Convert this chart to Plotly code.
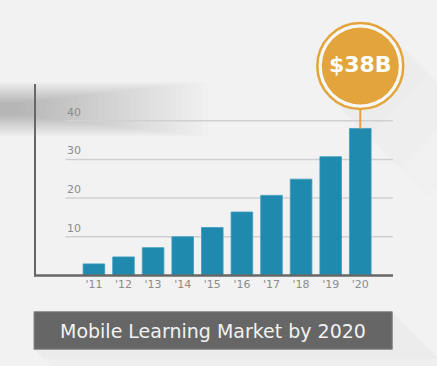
import plotly.graph_objects as go

# ---- data ----
years = ["'11", "'12", "'13", "'14", "'15", "'16", "'17", "'18", "'19", "'20"]
values = [3.0, 4.8, 7.2, 10.0, 12.4, 16.4, 20.7, 24.9, 30.7, 38.0]
y_ticks = [10, 20, 30, 40]
y_tick_labels = ["10", "20", "30", "40"]
callout_text = "$38B"
title_text = "Mobile Learning Market by 2020"

W, H = 437, 366
BG = "#f2f2f2"
BAR = "#1f8aad"
ORANGE = "#e3a53b"
AXIS = "#676767"
GRID = "#d0d0d0"
FONT = "DejaVu Sans"

def px(x):
    return x / W

def py(y):
    return 1 - y / H

# plot area in page pixels
L, R, B, TOP = 35, 393, 275.5, 0
AX_TOP = 84
UNIT = 3.87  # pixels per value unit
idx = list(range(len(years)))
xr = [-1.99, 10.105]
yr = [0, (B - TOP) / UNIT]

fig = go.Figure()

fig.add_trace(go.Bar(
    x=idx, y=values,
    marker=dict(color=BAR, line=dict(color="#3b9dbf", width=0.8)),
    hoverinfo="skip",
))

# callout stem + circles, anchored to the last bar
last_x = idx[-1]
last_v = values[-1]
circle_y = last_v + 16.13
fig.add_trace(go.Scatter(
    x=[last_x, last_x], y=[last_v, last_v + 6],
    mode="lines", line=dict(color=ORANGE, width=2),
    cliponaxis=False, hoverinfo="skip",
))
fig.add_trace(go.Scatter(
    x=[last_x], y=[circle_y], mode="markers",
    marker=dict(size=86, color="#f7f7f7", line=dict(color=ORANGE, width=2.5)),
    cliponaxis=False, hoverinfo="skip",
))
fig.add_trace(go.Scatter(
    x=[last_x], y=[circle_y], mode="markers+text",
    marker=dict(size=77, color=ORANGE, line=dict(width=0)),
    text=["<b>" + callout_text + "</b>"], textposition="middle center",
    textfont=dict(family=FONT, size=22, color="white"),
    cliponaxis=False, hoverinfo="skip",
))

shapes = []
# soft grey blur at the left
N = 30
for i in range(N):
    half = 6 + i * 0.75
    shapes.append(dict(
        type="rect", xref="paper", yref="paper", layer="below",
        x0=px(0), x1=px(20 + i * 6.5),
        y0=py(109 + half), y1=py(109 - half),
        fillcolor="rgba(0,0,0,0.0075)", line=dict(width=0),
    ))
# long diagonal shadow behind callout circle
cx, cy = 359.5, 66
d = 31.1
for ln in [40, 70, 100]:
    shapes.append(dict(
        type="path", xref="paper", yref="paper", layer="below",
        path=f"M {px(cx+d)},{py(cy-d)} L {px(cx+d+ln)},{py(cy-d+ln)} L {px(cx-d+ln)},{py(cy+d+ln)} L {px(cx-d)},{py(cy+d)} Z",
        fillcolor="rgba(0,0,0,0.008)", line=dict(width=0),
    ))
# gridlines
for v in y_ticks:
    shapes.append(dict(
        type="line", xref="paper", yref="y", layer="below",
        x0=px(65.7), x1=px(R), y0=v, y1=v,
        line=dict(color=GRID, width=1.5),
    ))
# axis lines
shapes.append(dict(type="line", xref="paper", yref="paper",
                   x0=px(L), x1=px(L), y0=py(B + 1), y1=py(AX_TOP),
                   line=dict(color=AXIS, width=2)))
shapes.append(dict(type="line", xref="paper", yref="paper",
                   x0=px(L - 1), x1=px(R), y0=py(B), y1=py(B),
                   line=dict(color=AXIS, width=2.5)))
# title box shadow
for ln in [10, 20]:
    shapes.append(dict(
        type="path", xref="paper", yref="paper", layer="below",
        path=f"M {px(34)},{py(349.3)} L {px(392.3)},{py(349.3)} L {px(392.3)},{py(311.7)} L {px(392.3+37.6+ln)},{py(349.3+ln)} L {px(34+ln)},{py(349.3+ln)} Z",
        fillcolor="rgba(0,0,0,0.012)", line=dict(width=0),
    ))
# title box
shapes.append(dict(type="rect", xref="paper", yref="paper",
                   x0=px(34), x1=px(392.3), y0=py(349.3), y1=py(311.7),
                   fillcolor="#666666", line=dict(color="#8a8a8a", width=1)))

annotations = []
for v, lab in zip(y_ticks, y_tick_labels):
    annotations.append(dict(
        xref="paper", yref="y", x=px(65), y=v, text=lab, showarrow=False,
        xanchor="left", yanchor="bottom", yshift=0,
        font=dict(family=FONT, size=11, color="#8c8c8c"),
    ))
annotations.append(dict(
    xref="paper", yref="paper", x=px(213), y=py(330.5), text=title_text,
    showarrow=False, xanchor="center", yanchor="middle",
    font=dict(family=FONT, size=19, color="#f2f2f2"),
))

fig.update_layout(
    width=W, height=H, autosize=False,
    margin=dict(l=0, r=0, t=0, b=0),
    paper_bgcolor=BG, plot_bgcolor="rgba(0,0,0,0)",
    showlegend=False, bargap=0.27,
    xaxis=dict(domain=[px(L), px(R)], range=xr, tickmode="array",
               tickvals=idx, ticktext=years, showgrid=False, zeroline=False,
               showline=False, ticks="", ticklen=0,
               tickfont=dict(family=FONT, size=11, color="#8c8c8c")),
    yaxis=dict(domain=[py(B), py(TOP)], range=yr, showgrid=False,
               zeroline=False, showline=False, showticklabels=False),
    shapes=shapes, annotations=annotations,
)

fig.write_html(
    "out.html",
    config={"displayModeBar": False},
    post_script="document.body.style.margin='0';"
                "document.body.style.overflow='hidden';"
                "document.body.style.background='#f2f2f2';",
)
